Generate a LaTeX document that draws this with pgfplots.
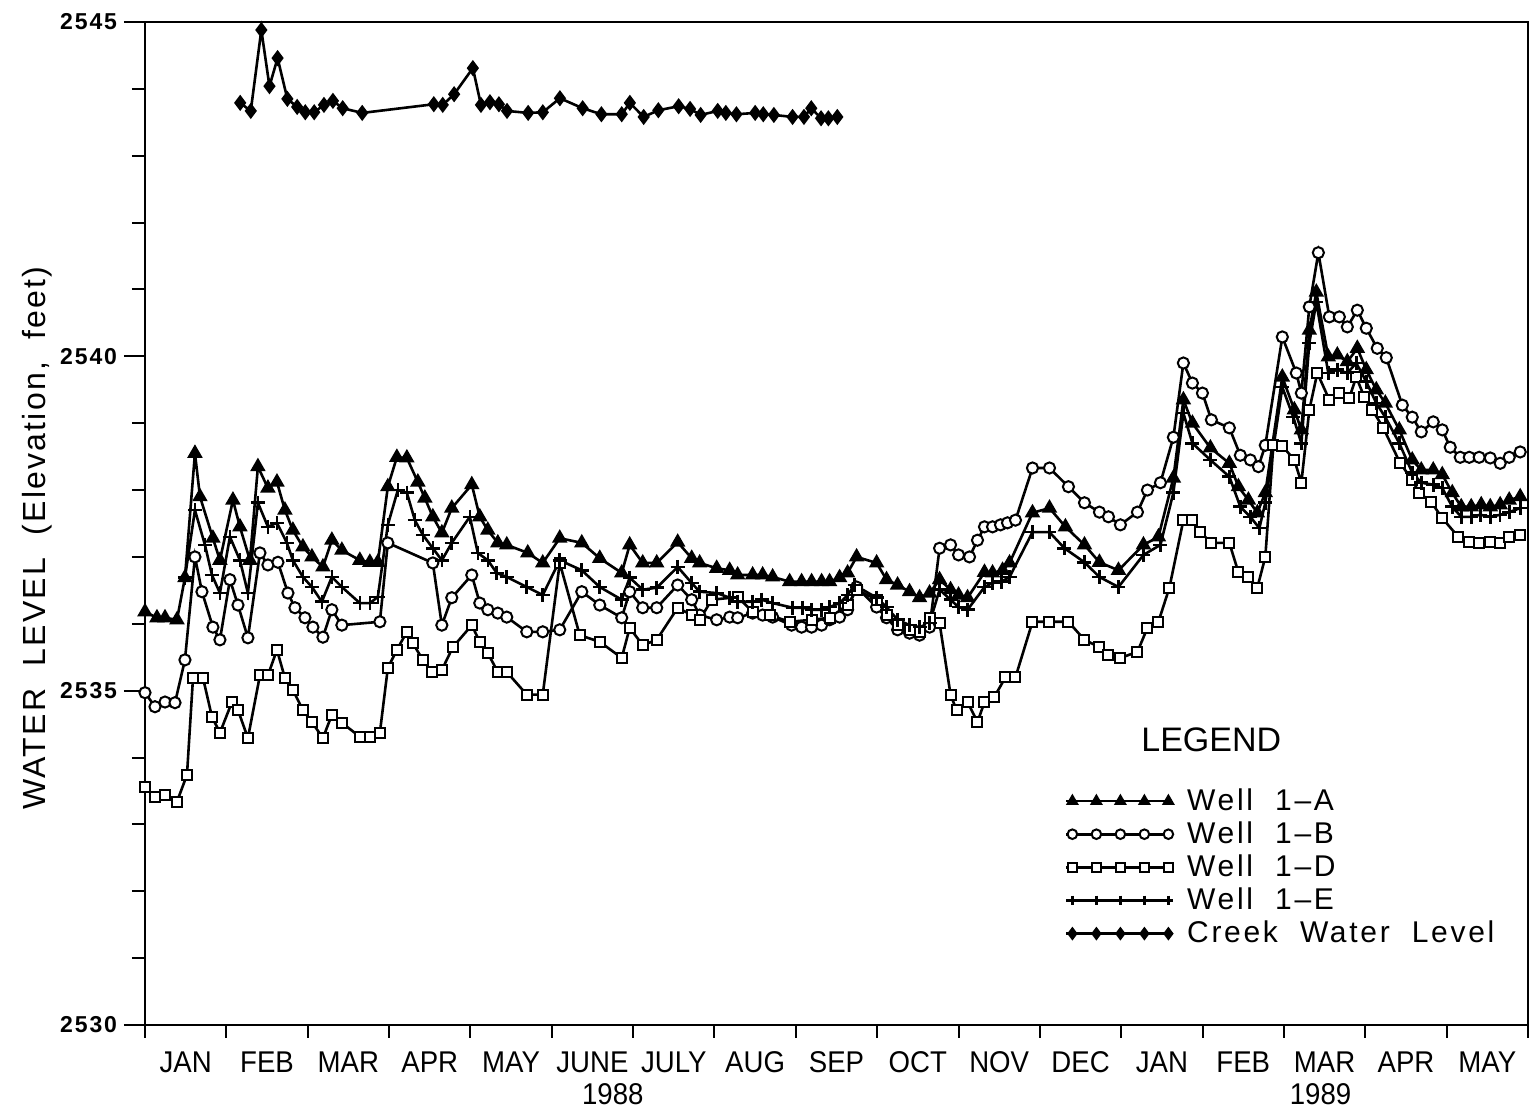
\documentclass[border=0pt]{standalone}
\usepackage{fontspec}
\setmainfont{Liberation Sans}
\newfontfamily\tickfont[LetterSpace=8]{Liberation Sans}
\newfontfamily\labfont[LetterSpace=7]{Liberation Sans}
\newfontfamily\legfont[LetterSpace=9]{Liberation Sans}
\newfontfamily\monfont[FakeStretch=0.92]{Liberation Sans}
\usepackage{pgfplots}
\pgfplotsset{compat=1.18}
\begin{document}
\begin{tikzpicture}
\begin{axis}[
  at={(0pt,0pt)}, anchor=south west,
  scale only axis, width=691.5pt, height=501.5pt,
  xmin=0, xmax=17, ymin=2530, ymax=2545,
  axis line style={line width=1pt},
  tick style={line width=1pt, black},
  tick align=outside,
  xtick pos=lower, ytick pos=left,
  xtick={0.5,1.5,...,16.5},
  xticklabels={JAN,FEB,MAR,APR,MAY,JUNE,JULY,AUG,SEP,OCT,NOV,DEC,JAN,FEB,MAR,APR,MAY},
  major x tick style={draw=none},
  minor xtick={0,1,...,17},
  ytick={2530,2535,2540,2545},
  yticklabels={2530,2535,2540,2545},
  minor ytick={2531,2532,2533,2534,2536,2537,2538,2539,2541,2542,2543,2544},
  major tick length=10.5pt, minor tick length=6.5pt,
  xticklabel style={font=\monfont\fontsize{15}{17}\selectfont, anchor=center, yshift=-8pt},
  yticklabel style={font=\tickfont\bfseries\fontsize{11.5}{12}\selectfont},
  clip=false,
  legend image code/.code={\draw[#1, mark size=2.4pt, mark indices={2,3,4,5,6}] plot coordinates {(0pt,0pt) (3pt,0pt) (15pt,0pt) (27pt,0pt) (39pt,0pt) (51pt,0pt)};},
  legend style={draw=none, fill=none, inner sep=0pt, at={(rel axis cs:0.665,0.236)}, anchor=north west,
    font=\legfont\fontsize{15}{17}\selectfont, row sep=4.2pt,
    nodes={inner sep=0pt},
    /tikz/every odd column/.append style={column sep=7pt}},
  legend cell align=left,
]
\addplot[black, line width=1.3pt, mark=triangle*, mark size=3.2pt, mark options={solid, fill=black}] coordinates {
(0,2536.18)(0.147,2536.09)(0.246,2536.09)(0.393,2536.06)(0.491,2536.69)(0.614,2538.55)(0.676,2537.90)(0.835,2537.28)(0.921,2536.95)(1.081,2537.85)(1.167,2537.45)(1.290,2536.95)(1.388,2538.35)(1.511,2538.03)(1.622,2538.12)(1.720,2537.70)(1.818,2537.40)(1.941,2537.15)(2.052,2537.00)(2.187,2536.85)(2.297,2537.25)(2.420,2537.10)(2.641,2536.95)(2.764,2536.92)(2.862,2536.92)(2.985,2538.05)(3.096,2538.49)(3.219,2538.48)(3.354,2538.12)(3.440,2537.88)(3.538,2537.60)(3.649,2537.36)(3.771,2537.73)(4.017,2538.08)(4.115,2537.60)(4.214,2537.40)(4.337,2537.21)(4.447,2537.18)(4.705,2537.06)(4.889,2536.91)(5.098,2537.28)(5.369,2537.21)(5.590,2536.98)(5.860,2536.76)(5.958,2537.18)(6.118,2536.91)(6.290,2536.91)(6.548,2537.22)(6.720,2536.98)(6.818,2536.91)(7.027,2536.83)(7.187,2536.80)(7.285,2536.73)(7.469,2536.73)(7.592,2536.73)(7.715,2536.70)(7.924,2536.63)(8.071,2536.63)(8.194,2536.63)(8.317,2536.63)(8.415,2536.63)(8.538,2536.69)(8.636,2536.76)(8.747,2537.00)(8.993,2536.91)(9.115,2536.66)(9.251,2536.58)(9.398,2536.48)(9.521,2536.39)(9.644,2536.46)(9.767,2536.66)(9.902,2536.51)(10.000,2536.43)(10.111,2536.39)(10.319,2536.77)(10.418,2536.76)(10.541,2536.80)(10.627,2536.91)(10.909,2537.66)(11.118,2537.73)(11.314,2537.45)(11.548,2537.18)(11.732,2536.92)(11.966,2536.80)(12.273,2537.18)(12.457,2537.30)(12.641,2538.18)(12.764,2539.35)(12.875,2539.00)(13.096,2538.63)(13.329,2538.40)(13.440,2538.05)(13.563,2537.85)(13.673,2537.66)(13.771,2537.96)(13.980,2539.69)(14.128,2539.20)(14.214,2538.90)(14.312,2540.39)(14.398,2540.96)(14.545,2539.99)(14.656,2540.02)(14.779,2539.92)(14.902,2540.12)(15.012,2539.80)(15.135,2539.50)(15.246,2539.30)(15.418,2538.90)(15.577,2538.45)(15.688,2538.30)(15.835,2538.30)(15.946,2538.23)(16.069,2537.96)(16.179,2537.75)(16.302,2537.75)(16.425,2537.78)(16.536,2537.75)(16.658,2537.78)(16.769,2537.85)(16.904,2537.90)};
\addlegendentry{Well\ \ 1–A}
\addplot[black, line width=1.3pt, mark=*, mark size=2.8pt, mark options={solid, fill=white, line width=1pt}] coordinates {
(0,2534.97)(0.123,2534.76)(0.246,2534.83)(0.369,2534.82)(0.491,2535.46)(0.614,2537.00)(0.700,2536.48)(0.835,2535.95)(0.921,2535.76)(1.044,2536.66)(1.143,2536.28)(1.265,2535.79)(1.413,2537.06)(1.511,2536.88)(1.634,2536.92)(1.757,2536.46)(1.843,2536.24)(1.966,2536.09)(2.064,2535.95)(2.187,2535.80)(2.297,2536.21)(2.420,2535.98)(2.887,2536.03)(2.985,2537.21)(3.538,2536.91)(3.649,2535.98)(3.771,2536.39)(4.017,2536.73)(4.115,2536.31)(4.214,2536.21)(4.337,2536.16)(4.447,2536.10)(4.693,2535.88)(4.889,2535.88)(5.098,2535.91)(5.369,2536.48)(5.590,2536.28)(5.860,2536.09)(5.958,2536.48)(6.118,2536.24)(6.290,2536.24)(6.548,2536.58)(6.720,2536.36)(6.818,2536.13)(7.027,2536.06)(7.187,2536.10)(7.285,2536.09)(7.469,2536.16)(7.592,2536.13)(7.715,2536.10)(7.948,2535.98)(8.071,2535.95)(8.194,2535.95)(8.317,2535.98)(8.415,2536.06)(8.538,2536.10)(8.636,2536.21)(8.747,2536.55)(8.993,2536.25)(9.115,2536.09)(9.251,2535.91)(9.398,2535.86)(9.521,2535.83)(9.644,2535.95)(9.767,2537.13)(9.902,2537.18)(10.000,2537.03)(10.135,2537.00)(10.233,2537.25)(10.319,2537.45)(10.418,2537.45)(10.516,2537.48)(10.602,2537.51)(10.700,2537.55)(10.909,2538.33)(11.118,2538.33)(11.351,2538.05)(11.548,2537.81)(11.732,2537.67)(11.843,2537.60)(11.990,2537.48)(12.199,2537.67)(12.322,2538.00)(12.482,2538.11)(12.641,2538.79)(12.764,2539.90)(12.875,2539.60)(12.998,2539.45)(13.108,2539.05)(13.329,2538.93)(13.464,2538.52)(13.587,2538.45)(13.686,2538.35)(13.771,2538.67)(13.980,2540.29)(14.152,2539.75)(14.214,2539.45)(14.312,2540.74)(14.423,2541.55)(14.558,2540.59)(14.681,2540.59)(14.779,2540.44)(14.902,2540.69)(15.012,2540.42)(15.147,2540.12)(15.258,2539.98)(15.455,2539.27)(15.577,2539.09)(15.688,2538.87)(15.835,2539.02)(15.946,2538.90)(16.044,2538.64)(16.167,2538.49)(16.278,2538.49)(16.400,2538.49)(16.536,2538.48)(16.658,2538.40)(16.769,2538.49)(16.904,2538.57)};
\addlegendentry{Well\ \ 1–B}
\addplot[black, line width=1.3pt, mark=square*, mark size=2.5pt, mark options={solid, fill=white, line width=1pt}] coordinates {
(0,2533.56)(0.123,2533.41)(0.246,2533.44)(0.393,2533.34)(0.516,2533.74)(0.590,2535.19)(0.713,2535.19)(0.823,2534.61)(0.921,2534.37)(1.069,2534.83)(1.143,2534.71)(1.265,2534.29)(1.413,2535.23)(1.511,2535.23)(1.622,2535.61)(1.720,2535.19)(1.818,2535.01)(1.941,2534.71)(2.052,2534.53)(2.187,2534.29)(2.297,2534.64)(2.420,2534.52)(2.641,2534.31)(2.764,2534.31)(2.887,2534.37)(2.985,2535.34)(3.096,2535.61)(3.219,2535.88)(3.292,2535.71)(3.415,2535.46)(3.526,2535.28)(3.649,2535.31)(3.784,2535.65)(4.017,2535.98)(4.115,2535.73)(4.214,2535.56)(4.337,2535.28)(4.447,2535.28)(4.693,2534.94)(4.889,2534.94)(5.098,2536.91)(5.344,2535.83)(5.590,2535.73)(5.860,2535.49)(5.958,2535.94)(6.118,2535.68)(6.290,2535.76)(6.548,2536.24)(6.720,2536.13)(6.818,2536.06)(6.966,2536.36)(7.285,2536.40)(7.469,2536.18)(7.678,2536.13)(7.924,2536.03)(8.194,2536.06)(8.415,2536.09)(8.636,2536.28)(8.747,2536.51)(8.993,2536.36)(9.115,2536.13)(9.251,2535.98)(9.398,2535.91)(9.521,2535.88)(9.644,2536.09)(9.767,2536.01)(9.902,2534.94)(9.975,2534.71)(10.111,2534.83)(10.233,2534.53)(10.319,2534.83)(10.442,2534.91)(10.577,2535.20)(10.700,2535.20)(10.909,2536.03)(11.118,2536.03)(11.351,2536.03)(11.548,2535.76)(11.732,2535.65)(11.843,2535.53)(11.990,2535.49)(12.199,2535.58)(12.322,2535.94)(12.457,2536.03)(12.592,2536.54)(12.764,2537.55)(12.875,2537.55)(12.973,2537.37)(13.108,2537.21)(13.329,2537.21)(13.440,2536.77)(13.563,2536.70)(13.673,2536.54)(13.771,2537.00)(13.870,2538.67)(13.980,2538.66)(14.128,2538.45)(14.214,2538.11)(14.312,2539.20)(14.410,2539.75)(14.558,2539.35)(14.681,2539.45)(14.803,2539.38)(14.889,2539.69)(14.988,2539.39)(15.086,2539.20)(15.221,2538.93)(15.430,2538.40)(15.577,2538.15)(15.663,2537.96)(15.811,2537.82)(15.946,2537.58)(16.143,2537.30)(16.278,2537.22)(16.400,2537.21)(16.536,2537.22)(16.658,2537.21)(16.769,2537.30)(16.904,2537.33)};
\addlegendentry{Well\ \ 1–D}
\addplot[black, line width=1.3pt, mark=+, mark size=3.5pt, mark options={solid}] coordinates {
(0.491,2536.69)(0.614,2537.70)(0.737,2537.18)(0.823,2536.73)(0.921,2536.46)(1.044,2537.30)(1.167,2536.95)(1.265,2536.46)(1.388,2537.81)(1.511,2537.45)(1.622,2537.51)(1.744,2537.21)(1.818,2536.95)(1.941,2536.70)(2.052,2536.55)(2.174,2536.33)(2.297,2536.70)(2.420,2536.55)(2.641,2536.31)(2.764,2536.31)(2.862,2536.40)(2.985,2537.48)(3.108,2538.00)(3.219,2537.96)(3.317,2537.55)(3.415,2537.33)(3.538,2537.13)(3.649,2536.95)(3.771,2537.21)(3.993,2537.60)(4.091,2537.06)(4.214,2536.95)(4.324,2536.76)(4.447,2536.70)(4.693,2536.55)(4.889,2536.43)(5.098,2536.95)(5.369,2536.80)(5.590,2536.55)(5.860,2536.36)(5.958,2536.69)(6.118,2536.51)(6.290,2536.54)(6.548,2536.85)(6.720,2536.61)(6.818,2536.48)(7.027,2536.46)(7.187,2536.39)(7.285,2536.33)(7.469,2536.33)(7.580,2536.36)(7.715,2536.31)(7.961,2536.24)(8.084,2536.24)(8.194,2536.21)(8.317,2536.21)(8.415,2536.25)(8.538,2536.31)(8.636,2536.43)(8.722,2536.58)(8.993,2536.39)(9.115,2536.25)(9.251,2536.06)(9.398,2535.98)(9.521,2535.95)(9.644,2536.01)(9.767,2536.51)(9.902,2536.36)(10.000,2536.25)(10.111,2536.21)(10.319,2536.55)(10.418,2536.61)(10.528,2536.63)(10.627,2536.70)(10.909,2537.37)(11.118,2537.37)(11.302,2537.13)(11.548,2536.92)(11.732,2536.70)(11.966,2536.55)(12.273,2537.03)(12.482,2537.18)(12.641,2537.96)(12.764,2539.15)(12.875,2538.70)(13.096,2538.45)(13.329,2538.20)(13.464,2537.75)(13.587,2537.60)(13.698,2537.43)(13.771,2537.81)(13.980,2539.54)(14.115,2539.09)(14.214,2538.70)(14.312,2540.20)(14.398,2540.81)(14.545,2539.75)(14.656,2539.80)(14.779,2539.75)(14.889,2539.90)(15.012,2539.62)(15.135,2539.30)(15.246,2539.09)(15.418,2538.70)(15.577,2538.26)(15.688,2538.11)(15.835,2538.08)(15.946,2538.03)(16.069,2537.75)(16.179,2537.60)(16.302,2537.60)(16.413,2537.63)(16.536,2537.60)(16.658,2537.63)(16.769,2537.67)(16.904,2537.73)};
\addlegendentry{Well\ \ 1–E}
\addplot[black, line width=1.3pt, mark=diamond*, mark size=3pt, mark options={solid, fill=black}] coordinates {
(1.17,2543.79)(1.30,2543.67)(1.43,2544.88)(1.53,2544.04)(1.63,2544.46)(1.75,2543.85)(1.87,2543.73)(1.97,2543.65)(2.08,2543.65)(2.20,2543.76)(2.31,2543.82)(2.43,2543.71)(2.67,2543.64)(3.55,2543.77)(3.66,2543.76)(3.80,2543.92)(4.03,2544.31)(4.13,2543.76)(4.24,2543.80)(4.35,2543.77)(4.45,2543.67)(4.71,2543.64)(4.89,2543.65)(5.10,2543.86)(5.38,2543.71)(5.61,2543.62)(5.86,2543.62)(5.96,2543.79)(6.13,2543.58)(6.31,2543.68)(6.56,2543.74)(6.70,2543.70)(6.83,2543.61)(7.04,2543.67)(7.14,2543.64)(7.27,2543.62)(7.50,2543.64)(7.60,2543.62)(7.73,2543.61)(7.96,2543.58)(8.10,2543.58)(8.19,2543.71)(8.31,2543.56)(8.40,2543.56)(8.51,2543.58)};
\addlegendentry{Creek\ \ Water\ \ Level}
\node[rotate=90, font=\labfont\fontsize{16}{18}\selectfont] at ([xshift=-54pt]rel axis cs:0,0.4855) {WATER\ \ LEVEL\ \ (Elevation,\ \ feet)};
\node[font=\fontsize{17}{19}\selectfont] at (rel axis cs:0.771,0.284) {LEGEND};
\node[font=\monfont\fontsize{15}{17}\selectfont] at ([yshift=-34.5pt]axis cs:5.75,2530) {1988};
\node[font=\monfont\fontsize{15}{17}\selectfont] at ([yshift=-34.5pt]axis cs:14.45,2530) {1989};
\end{axis}
\pgfresetboundingbox
\path[use as bounding box] (-72.5pt,-41.5pt) rectangle (693.5pt,512.5pt);
\end{tikzpicture}
\end{document}
